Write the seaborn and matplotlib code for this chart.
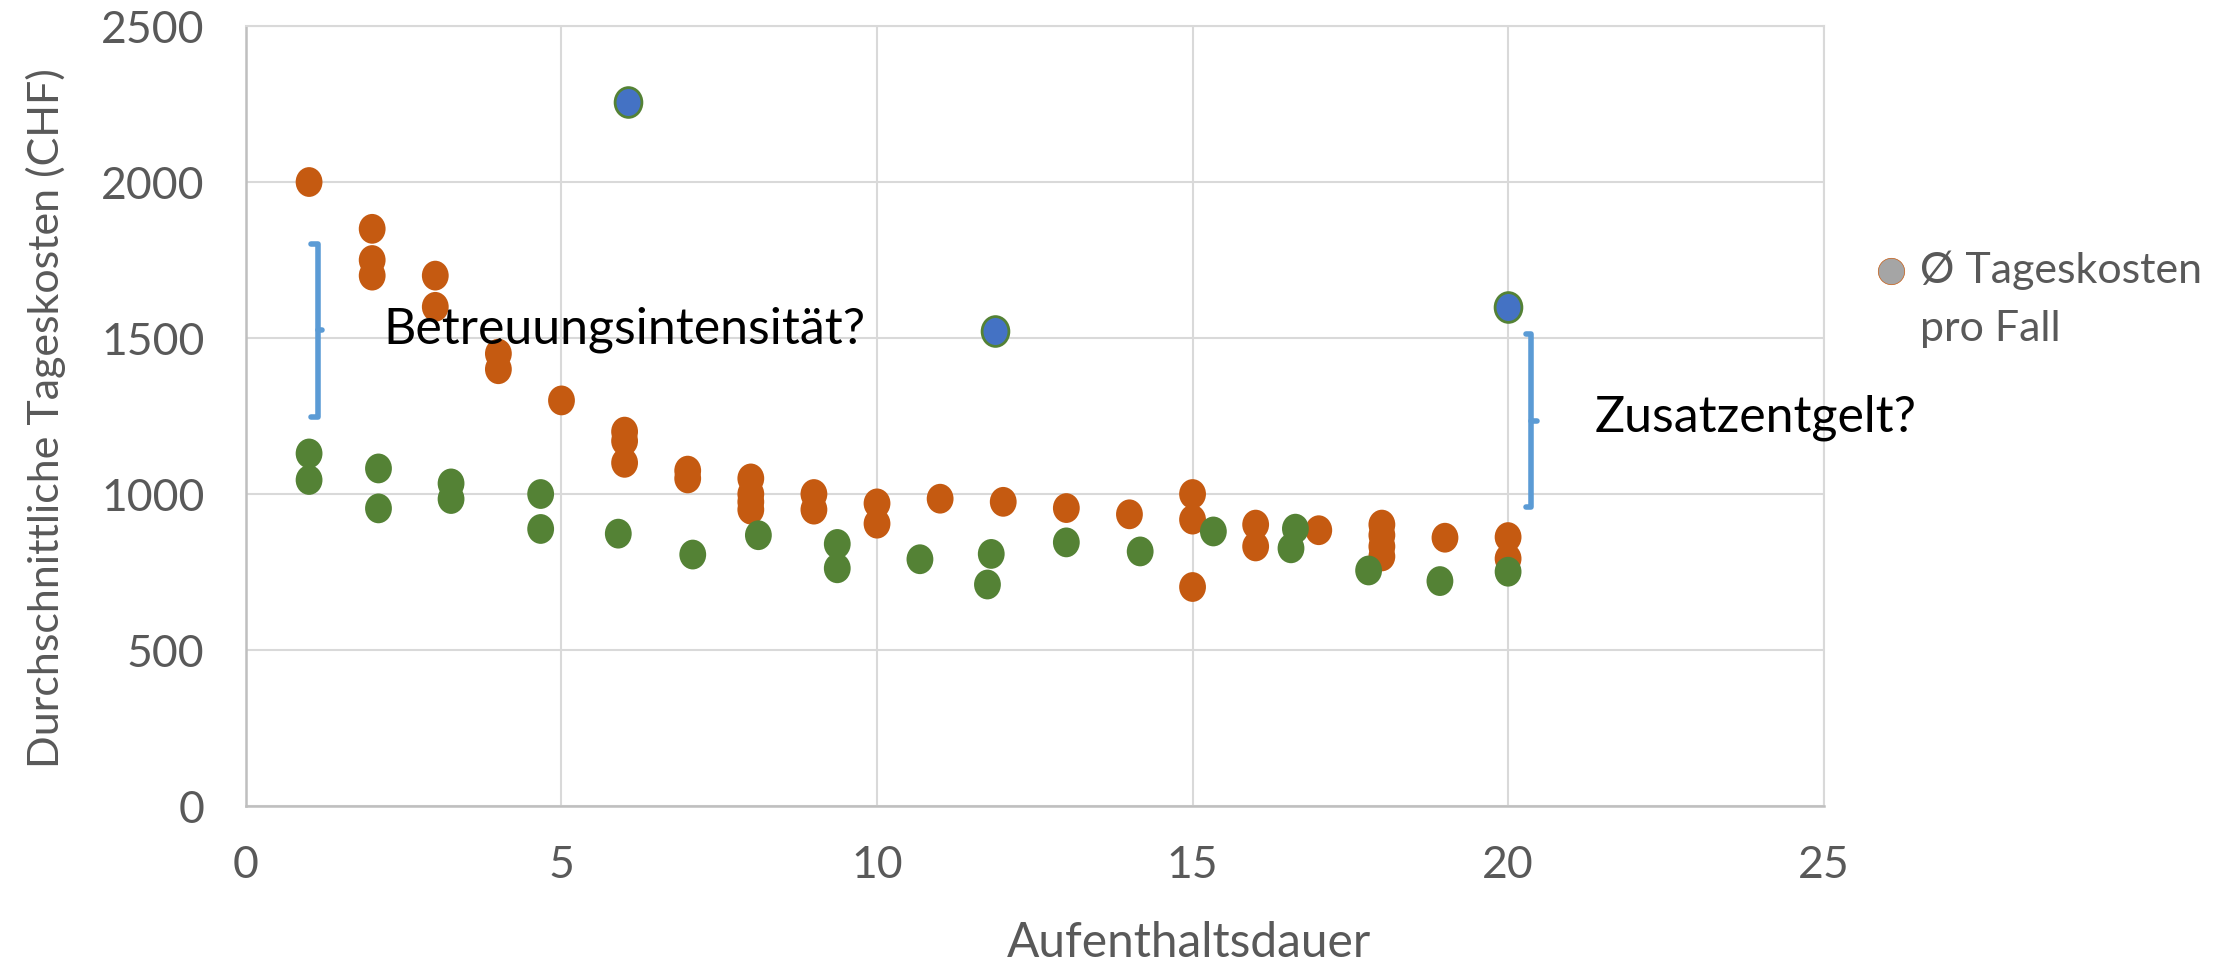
import matplotlib
matplotlib.use("Agg")
import matplotlib.pyplot as plt
import pandas as pd
import seaborn as sns
from matplotlib.lines import Line2D
from matplotlib.path import Path
from matplotlib.transforms import Affine2D

# Daten
orange_x = [1, 2, 2, 2, 3, 3, 4, 4, 5, 6, 6, 6, 7, 7, 8, 8, 8, 8, 9, 9, 10, 10,
            11, 12, 13, 14, 15, 15, 15, 16, 16, 17, 18, 18, 18, 18, 19, 20, 20]
orange_y = [2000, 1850, 1750, 1700, 1700, 1600, 1450, 1400, 1300, 1200, 1170, 1100,
            1075, 1050, 1050, 1000, 975, 950, 1000, 950, 970, 905, 985, 975, 955, 935,
            1000, 918, 702, 902, 832, 884, 902, 868, 832, 800, 860, 862, 793]

green_x = [1.0, 1.0, 2.1, 2.1, 3.25, 3.25, 4.67, 4.67, 5.9, 7.08, 8.12, 9.37, 9.37,
           10.68, 11.75, 11.81, 13.0, 14.17, 15.33, 16.56, 16.63, 17.79, 18.92, 20.0]
green_y = [1130, 1045, 1082, 954, 1034, 984, 1000, 888, 873, 806, 868, 840, 762,
           791, 710, 808, 845, 816, 880, 826, 889, 755, 721, 751]

blue_x = [6.05, 11.87, 20.0]
blue_y = [2255, 1524, 1598]

x_ticks = [0, 5, 10, 15, 20, 25]
y_ticks = [0, 500, 1000, 1500, 2000, 2500]

df = pd.DataFrame({
    'dauer': orange_x + green_x,
    'kosten': orange_y + green_y,
    'gruppe': ['orange'] * len(orange_x) + ['gruen'] * len(green_x),
})
df_blue = pd.DataFrame({'dauer': blue_x, 'kosten': blue_y})

sns.set_theme(style='white')
plt.rcParams['font.family'] = ['Lato', 'DejaVu Sans']

# leicht ovale Punkte wie im Original
oval = Affine2D().scale(0.9, 1.0).transform_path(Path.unit_circle())

grau_text = '#595959'
fig, ax = plt.subplots(figsize=(22.34, 9.71), dpi=100)
fig.subplots_adjust(left=0.1101, right=0.8163, top=0.9732, bottom=0.1699)

ax.grid(True, color='#D9D9D9', linewidth=1.5)
ax.set_axisbelow(True)

sns.scatterplot(data=df, x='dauer', y='kosten', hue='gruppe',
                palette={'orange': '#C55A11', 'gruen': '#548235'},
                marker=oval, s=460, linewidth=0, legend=False, ax=ax, zorder=3)
sns.scatterplot(data=df_blue, x='dauer', y='kosten', color='#4472C4', marker=oval,
                edgecolor='#548235', linewidth=2, s=460, legend=False, ax=ax, zorder=4)

# Klammern
klammer = '#5B9BD5'
ax.plot([1.03, 1.14, 1.14, 1.03], [1800, 1800, 1248, 1248], color=klammer, lw=4, zorder=2)
ax.plot([1.14, 1.21], [1526, 1526], color=klammer, lw=4, zorder=2)
ax.plot([20.28, 20.37, 20.37, 20.28], [1512, 1512, 957, 957], color=klammer, lw=4, zorder=2)
ax.plot([20.37, 20.46], [1235, 1235], color=klammer, lw=4, zorder=2)

ax.text(2.18, 1528, 'Betreuungsintensität?', fontsize=36, color='black',
        ha='left', va='center')
ax.text(21.37, 1245, 'Zusatzentgelt?', fontsize=36, color='black',
        ha='left', va='center')

ax.set_xlim(0, 25)
ax.set_ylim(0, 2500)
ax.set_xticks(x_ticks)
ax.set_yticks(y_ticks)
ax.tick_params(axis='both', length=0, labelsize=32, labelcolor=grau_text)
ax.tick_params(axis='x', pad=28)
ax.tick_params(axis='y', pad=30)

for side in ['top', 'right']:
    ax.spines[side].set_color('#D9D9D9')
    ax.spines[side].set_linewidth(1.5)
for side in ['left', 'bottom']:
    ax.spines[side].set_color('#BFBFBF')
    ax.spines[side].set_linewidth(1.8)

ax.set_xlabel('Aufenthaltsdauer', fontsize=34.5, color=grau_text)
ax.set_ylabel('Durchschnittliche Tageskosten (CHF)', fontsize=31, color=grau_text)
ax.xaxis.set_label_coords(0.598, -0.148)
ax.yaxis.set_label_coords(-0.114, 0.497)

# Legende
fig.add_artist(Line2D([0.8463], [0.7212], marker='o', markersize=19,
                      markerfacecolor='#A5A5A5', markeredgecolor='#C55A11',
                      markeredgewidth=0.5, linestyle='', transform=fig.transFigure))
fig.text(0.8594, 0.7212, 'Ø Tageskosten', fontsize=31, color=grau_text,
         ha='left', va='center')
fig.text(0.8594, 0.6612, 'pro Fall', fontsize=31, color=grau_text,
         ha='left', va='center')

fig.savefig('out.png', dpi=100)
